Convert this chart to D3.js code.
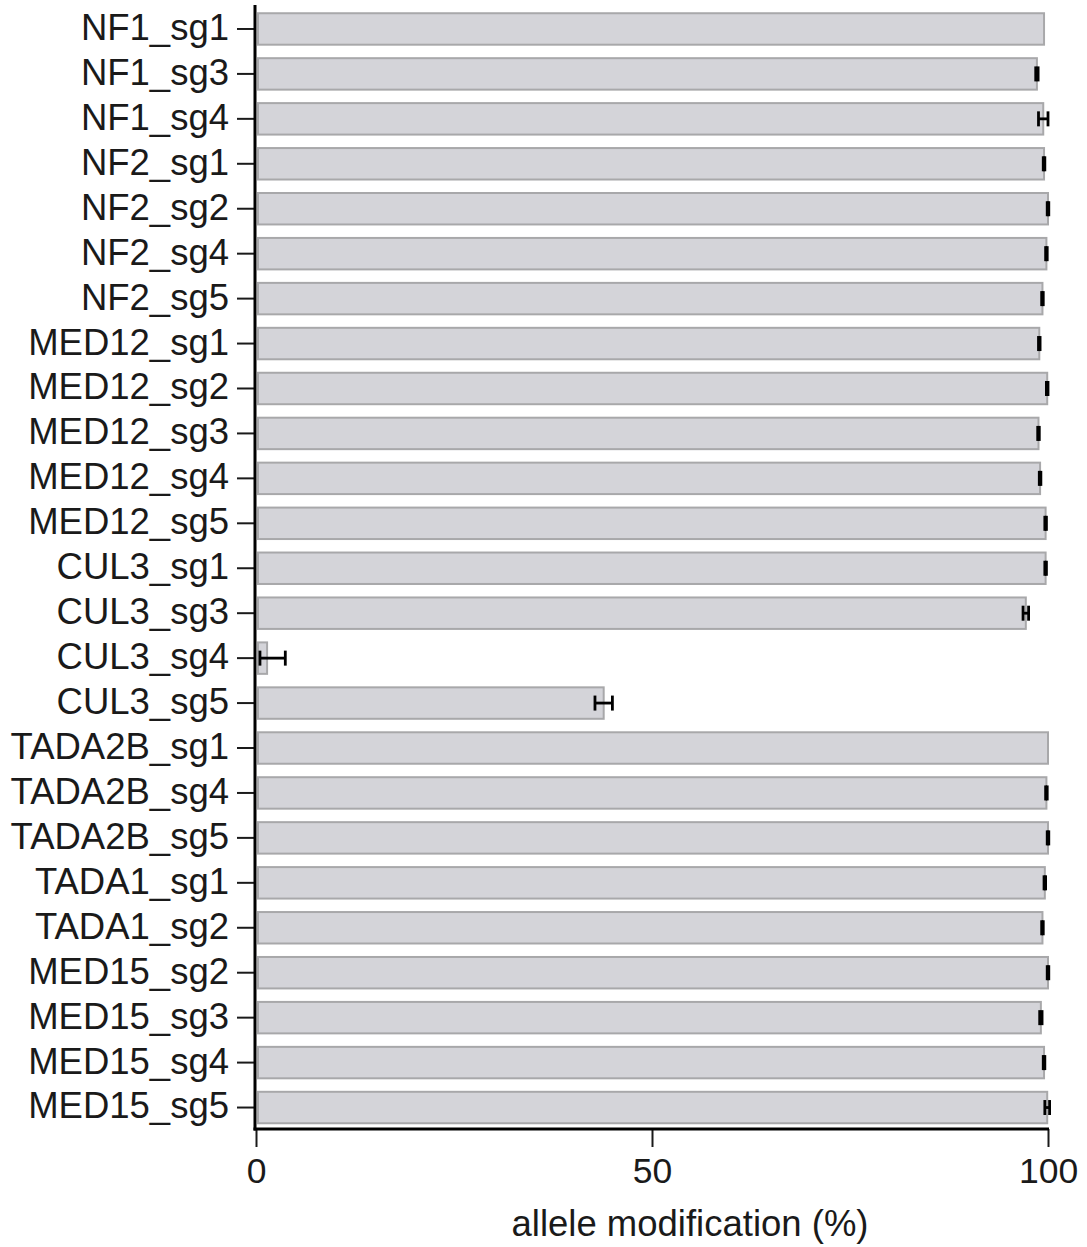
<!DOCTYPE html>
<html>
<head>
<meta charset="utf-8">
<script src="https://cdn.jsdelivr.net/npm/d3@7"></script>
<style>
    body { margin: 0; background: #ffffff; }
    svg { display: block; }
    text { font-family: "Liberation Sans", Arial, Helvetica, sans-serif; fill: #1a1a1a; }
</style>
</head>
<body>
<div id="chart"></div>
<script>
// Guide names (top to bottom)
const guides = [
    "NF1_sg1", "NF1_sg3", "NF1_sg4",
    "NF2_sg1", "NF2_sg2", "NF2_sg4", "NF2_sg5",
    "MED12_sg1", "MED12_sg2", "MED12_sg3", "MED12_sg4", "MED12_sg5",
    "CUL3_sg1", "CUL3_sg3", "CUL3_sg4", "CUL3_sg5",
    "TADA2B_sg1", "TADA2B_sg4", "TADA2B_sg5",
    "TADA1_sg1", "TADA1_sg2",
    "MED15_sg2", "MED15_sg3", "MED15_sg4", "MED15_sg5"
];

// Mean allele modification (%)
const modification = [
    99.5, 98.6, 99.4,
    99.5, 100.0, 99.8, 99.3,
    98.9, 99.9, 98.8, 99.0, 99.7,
    99.7, 97.2, 1.4, 43.9,
    100.0, 99.8, 100.0,
    99.6, 99.3,
    100.0, 99.1, 99.5, 99.9
];

// Error bar extents below / above the mean (null = no error bar)
const errMinus = [
    null, 0.15, 0.6,
    0.1, 0.1, 0.1, 0.1,
    0.1, 0.1, 0.1, 0.1, 0.1,
    0.1, 0.35, 0.9, 1.1,
    null, 0.1, 0.1,
    0.1, 0.1,
    0.1, 0.15, 0.1, 0.3
];
const errPlus = [
    null, 0.15, 0.6,
    0.1, 0.1, 0.1, 0.1,
    0.1, 0.1, 0.1, 0.1, 0.1,
    0.1, 0.35, 2.3, 1.1,
    null, 0.1, 0.1,
    0.1, 0.1,
    0.1, 0.15, 0.1, 0.3
];

const xTicks = [0, 50, 100];

const width = 1087;
const height = 1247;

const svg = d3.select("#chart")
    .append("svg")
    .attr("width", width)
    .attr("height", height);

// Scales
const x = d3.scaleLinear()
    .domain([0, 100])
    .range([256, 1048]);

const y = d3.scaleBand()
    .domain(guides)
    .range([6.5, 1130])
    .paddingInner(0.3)
    .paddingOuter(0.15);

// Bars
svg.append("g")
    .selectAll("rect")
    .data(guides)
    .join("rect")
    .attr("x", x(0) + 2)
    .attr("y", d => y(d))
    .attr("width", (d, i) => Math.max(0, x(modification[i]) - x(0) - 2))
    .attr("height", y.bandwidth())
    .attr("fill", "#d4d4d9")
    .attr("stroke", "#a8a8aa")
    .attr("stroke-width", 2);

// Error bars
const capHalf = 7.5;
const errG = svg.append("g")
    .attr("stroke", "#000")
    .attr("stroke-width", 2.8);

guides.forEach((g, i) => {
    if (errMinus[i] === null) return;
    const cy = y(g) + y.bandwidth() / 2;
    const x1 = x(modification[i] - errMinus[i]);
    const x2 = x(modification[i] + errPlus[i]);
    errG.append("line")
        .attr("x1", x1).attr("x2", x2)
        .attr("y1", cy).attr("y2", cy);
    [x1, x2].forEach(xc => {
        errG.append("line")
            .attr("x1", xc).attr("x2", xc)
            .attr("y1", cy - capHalf).attr("y2", cy + capHalf);
    });
});

// Y axis
const yAxis = svg.append("g")
    .attr("transform", `translate(${x(0) - 1},0)`)
    .call(d3.axisLeft(y).tickSize(18).tickPadding(8));

yAxis.select(".domain").remove();
yAxis.selectAll(".tick line")
    .attr("stroke", "#1a1a1a")
    .attr("stroke-width", 2);
yAxis.selectAll(".tick text")
    .attr("font-size", 36.5)
    .attr("dy", "0.3em")
    .style("font-family", "'Liberation Sans', Arial, sans-serif")
    .attr("fill", "#1a1a1a");

svg.append("line")
    .attr("x1", x(0) - 1).attr("x2", x(0) - 1)
    .attr("y1", 5).attr("y2", 1130.5)
    .attr("stroke", "#000")
    .attr("stroke-width", 3);

// X axis
const xAxis = svg.append("g")
    .attr("transform", "translate(0,1129)")
    .call(d3.axisBottom(x).tickValues(xTicks).tickSize(18).tickPadding(11));

xAxis.select(".domain").remove();
xAxis.selectAll(".tick line")
    .attr("stroke", "#1a1a1a")
    .attr("stroke-width", 2);
xAxis.selectAll(".tick text")
    .attr("font-size", 35.5)
    .style("font-family", "'Liberation Sans', Arial, sans-serif")
    .attr("fill", "#1a1a1a");

svg.append("line")
    .attr("x1", x(0) - 2.5).attr("x2", x(100) + 1)
    .attr("y1", 1129).attr("y2", 1129)
    .attr("stroke", "#000")
    .attr("stroke-width", 3);

// Axis title
svg.append("text")
    .attr("x", 690)
    .attr("y", 1236)
    .attr("text-anchor", "middle")
    .attr("font-size", 36.5)
    .text("allele modification (%)");
</script>
</body>
</html>
